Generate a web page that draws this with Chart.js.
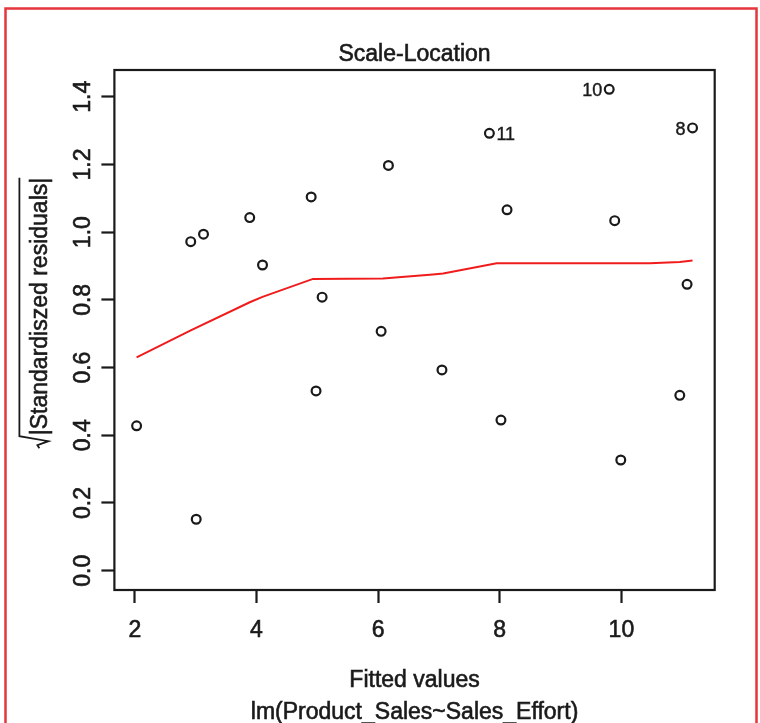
<!DOCTYPE html>
<html>
<head>
<meta charset="utf-8">
<script src="https://cdn.jsdelivr.net/npm/chart.js@4.4.1/dist/chart.umd.min.js"></script>
<style>
  html, body { margin: 0; padding: 0; background: #ffffff; }
  #wrap { width: 760px; height: 723px; position: relative; }
  canvas { display: block; }
</style>
</head>
<body>
<div id="wrap"><canvas id="chart" width="760" height="723"></canvas></div>
<script>
// Scale-Location diagnostic for lm(Product_Sales ~ Sales_Effort)
const fittedValues = [2.03, 2.92, 3.01, 3.13, 3.89, 4.10, 4.90, 4.98, 5.08, 6.05, 6.17,
                      7.05, 7.83, 8.02, 8.12, 9.80, 9.89, 9.99, 10.96, 11.08, 11.17];
const sqrtStdResiduals = [0.428, 0.972, 0.152, 0.994, 1.043, 0.903, 1.104, 0.531, 0.808, 0.707, 1.197,
                          0.593, 1.292, 0.445, 1.066, 1.422, 1.034, 0.327, 0.518, 0.846, 1.308];
const pointIds = ['', '', '', '', '', '', '', '', '', '', '',
                  '', '11', '', '', '10', '', '', '', '', '8'];

// lowess smoother through the points
const smoothX = [2.03, 2.92, 3.89, 4.10, 4.93, 6.08, 6.90, 7.07, 7.95, 10.47, 10.96, 11.17];
const smoothY = [0.630, 0.710, 0.793, 0.809, 0.862, 0.863, 0.875, 0.878, 0.908, 0.908, 0.912, 0.916];

const xTicks = [2, 4, 6, 8, 10];
const yTicks = [0.0, 0.2, 0.4, 0.6, 0.8, 1.0, 1.2, 1.4];
const xRange = [1.665, 11.534];
const yRange = [-0.057, 1.479];

const mainTitle = 'Scale-Location';
const xAxisTitle = ['Fitted values', 'lm(Product_Sales~Sales_Effort)'];
const yAxisTitle = '|Standardiszed residuals|';

const FONT = "'Liberation Sans', Arial, Helvetica, sans-serif";
const INK = '#1a1a1a';
const TEXT_STROKE = 0.6;

function inkText(ctx, str, x, y) {
  ctx.fillText(str, x, y);
  ctx.strokeText(str, x, y);
}

// outer red frame
const framePlugin = {
  id: 'frame',
  afterDraw(chart) {
    const ctx = chart.ctx;
    ctx.save();
    ctx.strokeStyle = '#e5363c';
    ctx.lineWidth = 2.5;
    ctx.strokeRect(5.5, 8.5, 751, 730);
    ctx.restore();
  }
};

// box around the plotting region
const boxPlugin = {
  id: 'plotBox',
  afterDatasetsDraw(chart) {
    const { ctx, chartArea: a } = chart;
    ctx.save();
    ctx.strokeStyle = INK;
    ctx.lineWidth = 2.2;
    ctx.strokeRect(a.left, a.top, a.right - a.left, a.bottom - a.top);
    ctx.restore();
  }
};

// observation numbers next to the largest residuals
const idPlugin = {
  id: 'idLabels',
  afterDatasetsDraw(chart) {
    const { ctx, scales } = chart;
    ctx.save();
    ctx.font = `18px ${FONT}`;
    ctx.fillStyle = INK;
    ctx.strokeStyle = INK;
    ctx.lineWidth = 0.4;
    ctx.textBaseline = 'middle';
    pointIds.forEach((id, i) => {
      if (!id) return;
      const px = scales.x.getPixelForValue(fittedValues[i]);
      const py = scales.y.getPixelForValue(sqrtStdResiduals[i]);
      const right = fittedValues[i] < 8.5;
      ctx.textAlign = right ? 'left' : 'right';
      inkText(ctx, id, px + (right ? 7 : -7), py + 2);
    });
    ctx.restore();
  }
};

// main title and the two-line x axis caption
const captionPlugin = {
  id: 'captions',
  afterDraw(chart) {
    const { ctx, chartArea: a } = chart;
    const cx = (a.left + a.right) / 2;
    ctx.save();
    ctx.font = `23px ${FONT}`;
    ctx.fillStyle = INK;
    ctx.strokeStyle = INK;
    ctx.lineWidth = TEXT_STROKE;
    ctx.textAlign = 'center';
    ctx.textBaseline = 'alphabetic';
    inkText(ctx, mainTitle, cx, a.top - 9);
    xAxisTitle.forEach((line, i) => inkText(ctx, line, cx, a.bottom + 97 + i * 32));
    ctx.restore();
  }
};

// y axis title: sqrt sign over |Standardiszed residuals|
const yTitlePlugin = {
  id: 'sqrtTitle',
  afterDraw(chart) {
    const { ctx, chartArea: a } = chart;
    ctx.save();
    ctx.font = `23px ${FONT}`;
    const textW = ctx.measureText(yAxisTitle).width;
    const rootW = 13;
    const total = rootW + textW;
    const cx = a.left - 67;
    const cy = (a.top + a.bottom) / 2 - 17;
    ctx.translate(cx, cy);
    ctx.rotate(-Math.PI / 2);
    const u0 = -total / 2;
    ctx.fillStyle = INK;
    ctx.strokeStyle = INK;
    ctx.lineWidth = TEXT_STROKE;
    ctx.textAlign = 'left';
    ctx.textBaseline = 'alphabetic';
    inkText(ctx, yAxisTitle, u0 + rootW, 0);
    ctx.lineWidth = 1.8;
    ctx.lineJoin = 'miter';
    ctx.beginPath();
    ctx.moveTo(u0, -8);
    ctx.lineTo(u0 + 3, -10);
    ctx.lineTo(u0 + 7, 1);
    ctx.lineTo(u0 + 12, -28);
    ctx.lineTo(u0 + total, -28);
    ctx.stroke();
    ctx.restore();
  }
};

new Chart(document.getElementById('chart'), {
  type: 'scatter',
  data: {
    datasets: [
      {
        label: 'residuals',
        data: fittedValues.map((x, i) => ({ x, y: sqrtStdResiduals[i] })),
        pointStyle: 'circle',
        pointRadius: 4.4,
        pointBorderWidth: 2.2,
        pointBorderColor: INK,
        pointBackgroundColor: 'rgba(0,0,0,0)',
        order: 1
      },
      {
        label: 'smoother',
        data: smoothX.map((x, i) => ({ x, y: smoothY[i] })),
        showLine: true,
        borderColor: '#f01c1c',
        borderWidth: 2,
        pointRadius: 0,
        tension: 0,
        order: 2
      }
    ]
  },
  options: {
    responsive: false,
    animation: false,
    devicePixelRatio: 1,
    layout: { padding: { left: 0, right: 45.3, top: 70, bottom: 0 } },
    plugins: {
      legend: { display: false },
      tooltip: { enabled: false },
      title: { display: false }
    },
    scales: {
      x: {
        type: 'linear',
        position: 'bottom',
        min: xRange[0],
        max: xRange[1],
        afterBuildTicks: s => { s.ticks = xTicks.map(v => ({ value: v })); },
        afterFit: s => { s.height = 133; },
        border: { display: false },
        grid: { drawOnChartArea: false, drawTicks: true, tickLength: 13, tickWidth: 2.2, tickColor: INK },
        ticks: {
          autoSkip: false, maxRotation: 0, padding: 14, color: INK,
          textStrokeColor: INK, textStrokeWidth: TEXT_STROKE,
          font: { family: FONT, size: 23 },
          callback: v => String(v)
        },
        title: { display: false }
      },
      y: {
        type: 'linear',
        position: 'left',
        min: yRange[0],
        max: yRange[1],
        afterBuildTicks: s => { s.ticks = yTicks.map(v => ({ value: v })); },
        afterFit: s => { s.width = 114.4; },
        border: { display: false },
        grid: { drawOnChartArea: false, drawTicks: true, tickLength: 13, tickWidth: 2.2, tickColor: INK },
        ticks: {
          minRotation: 90, maxRotation: 90, crossAlign: 'center', padding: 2, color: INK,
          textStrokeColor: INK, textStrokeWidth: TEXT_STROKE,
          font: { family: FONT, size: 23 },
          callback: v => v.toFixed(1)
        }
      }
    }
  },
  plugins: [boxPlugin, idPlugin, captionPlugin, yTitlePlugin, framePlugin]
});
</script>
</body>
</html>
